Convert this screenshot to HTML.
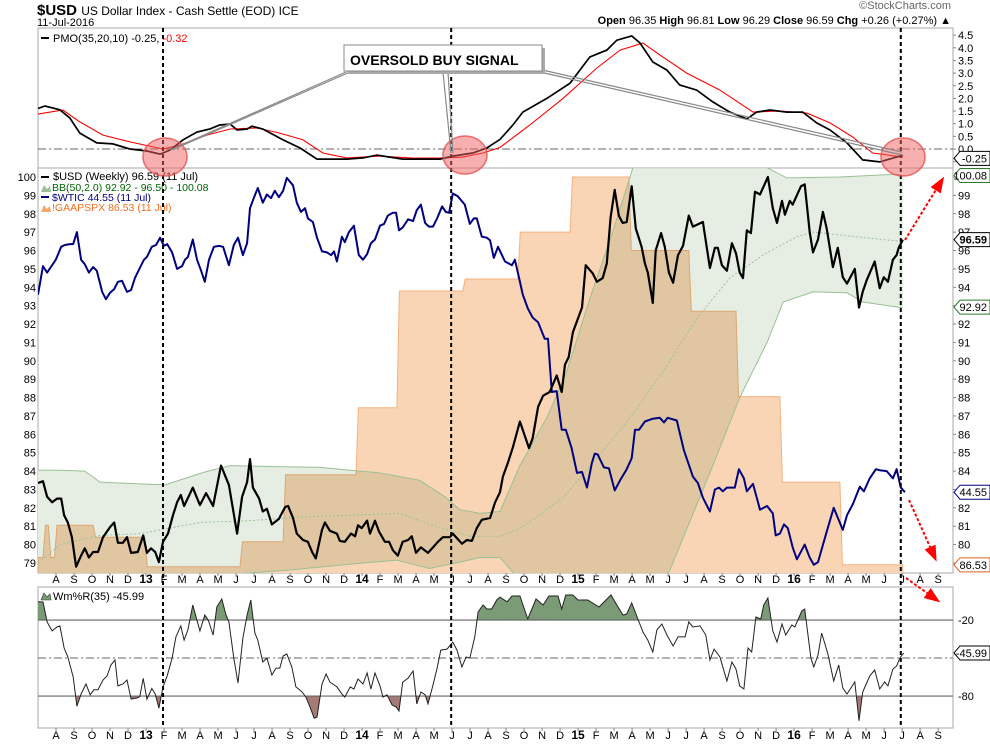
<!DOCTYPE html>
<html><head><meta charset="utf-8"><style>
body{margin:0;background:#fff;}
svg{display:block;font-family:"Liberation Sans",sans-serif;}
</style></head><body>
<svg id="c" width="990" height="744" viewBox="0 0 990 744" xmlns="http://www.w3.org/2000/svg">
<defs>
<clipPath id="clipTop"><rect x="38" y="28" width="915" height="140"/></clipPath>
<clipPath id="clipMid"><rect x="38" y="168" width="915" height="405"/></clipPath>
<clipPath id="clipBot"><rect x="38" y="587" width="915" height="141"/></clipPath>
<clipPath id="clipOB"><rect x="38" y="587" width="915" height="33"/></clipPath>
<clipPath id="clipOS"><rect x="38" y="696" width="915" height="32"/></clipPath>
</defs>
<g id="header">
<text x="37" y="15" font-size="15" font-weight="bold" fill="#000">$USD <tspan font-size="12" font-weight="normal">US Dollar Index - Cash Settle (EOD) ICE</tspan></text>
<text x="37" y="26" font-size="11" fill="#000">11-Jul-2016</text>
<text x="951" y="9" font-size="11" fill="#666" text-anchor="end">©StockCharts.com</text>
<text x="951" y="24" font-size="11" fill="#000" text-anchor="end"><tspan font-weight="bold">Open</tspan> 96.35 <tspan font-weight="bold">High</tspan> 96.81 <tspan font-weight="bold">Low</tspan> 96.29 <tspan font-weight="bold">Close</tspan> 96.59 <tspan font-weight="bold">Chg</tspan> +0.26 (+0.27%) ▲</text>
</g>
<g id="panels"></g>
<g id="marks"></g>
<g id="overlay"></g>
</svg>
<script>
const usdWeeks=[0,1.2,2.2,3.4,4.6,5.6,6.3,7.2,8.2,9.2,10.4,11.3,12.3,13.3,14.5,15.7,17.4,18.4,19.3,20.5,21.5,22.5,24.1,25.4,26.3,27.3,28.3,29.2,30.2,31.4,32.6,33.6,34.5,35.3,37.4,39.1,40.6,42.3,44.2,46.1,48.1,49.3,50.5,51.2,51.9,53.4,54.3,55.3,56.5,58.2,59.7,60.4,61.6,62.5,64.0,65.2,66.2,67.1,68.6,69.3,70.5,72.2,72.9,74.1,75.6,76.6,77.3,78.2,79.5,80.2,81.4,82.4,83.8,84.8,85.7,86.9,88.1,89.4,90.3,91.3,92.5,94.2,95.4,96.6,97.8,99.5,100.2,102.4,103.6,104.8,106.0,107.2,109.2,110.4,111.6,112.3,113.5,114.7,116.4,118.6,119.5,120.8,122.0,123.6,125.3,126.5,127.3,128.2,129.2,131.4,132.3,134.0,135.0,136.4,137.4,138.3,139.3,140.3,141.2,142.2,143.4,144.4,145.8,146.6,147.3,148.5,149.2,150.5,151.4,152.4,153.4,154.6,155.8,157.2,158.2,160.6,162.3,163.5,164.2,165.2,166.4,167.6,168.6,169.5,170.3,171.2,172.2,173.2,174.4,176.3,177.5,178.5,179.7,180.4,181.6,182.3,184.3,185.2,186.4,187.2,188.4,189.6,190.5,192.0,193.2,194.4,195.4,197.3,198.3,199.2,200.2,202.1,203.3,204.3,205.3,206.5,207.4,207.9,208.9];
const usdValues=[83.35,83.45,82.6,82.3,82.5,82.5,81.6,81.2,80.4,78.8,79.4,79.8,79.3,79.6,79.6,80.4,80.95,81.2,80.1,80.1,80.4,79.55,79.6,80.5,79.55,79.8,79.6,79.05,80.15,80.6,81.6,82.3,82.7,82.1,83.1,82.15,82.8,82.1,84.3,83.25,80.6,82.6,83.4,84.65,83.1,82.5,81.8,81.95,81.1,81.4,82.05,82.1,81.45,80.6,80.25,80.15,79.6,79.25,80.8,81.2,80.75,80.6,80.2,80.15,80.6,80.45,81.05,80.9,81.3,80.6,81.3,80.7,80.15,80.15,79.7,79.4,80.15,80.25,80.45,79.55,79.85,79.55,79.85,80.15,80.4,80.4,80.6,80.05,80.25,80.2,80.9,81.35,81.45,82.3,82.85,83.7,84.45,85.3,86.7,85.25,85.8,87.5,88.1,88.3,89.2,88.3,89.8,90.2,91.55,92.9,95.2,94.75,94.3,94.5,95.3,97.8,99.3,97.9,97.5,97.55,99.5,97.2,96.2,95.3,94.8,93.15,96.0,96.95,96.2,94.8,94.25,95.75,96.25,97.9,97.3,97.55,95.05,96.15,96.15,95.2,94.9,96.4,95.85,94.8,94.5,97.1,96.95,99.2,99.05,100.0,98.3,97.5,98.7,97.95,98.7,98.5,99.5,99.6,97.0,95.9,96.6,98.1,97.2,95.1,96.15,94.55,94.2,95.0,92.9,93.75,94.4,95.4,93.95,94.55,94.3,95.5,95.75,96.15,96.59];
const wticWeeks=[0,1.2,2.2,3.4,4.3,5.6,6.5,7.7,8.5,9.4,10.4,11.3,12.3,13.3,14.2,15.5,16.4,17.4,18.4,19.3,20.3,21.5,22.5,23.4,24.6,25.6,26.3,27.5,28.5,29.5,30.4,31.2,32.4,33.6,34.8,35.5,36.2,37.4,38.4,39.4,40.3,41.3,42.5,43.7,44.7,46.1,47.3,48.3,49.5,50.5,51.2,52.2,53.1,54.3,55.3,56.3,57.2,58.2,59.2,60.1,61.6,62.5,63.5,64.5,65.2,66.4,67.4,68.6,69.8,70.8,71.5,72.2,73.4,74.1,75.1,76.3,77.5,78.5,79.5,80.4,81.4,82.6,83.6,84.5,85.7,86.5,87.2,88.1,89.4,90.6,91.5,92.5,93.5,94.4,95.4,96.4,97.6,98.5,99.3,100.2,101.4,103.1,104.3,105.3,106.0,107.2,108.4,109.2,110.1,111.1,112.8,114.5,115.2,116.2,117.1,118.3,119.5,120.8,122.4,123.2,124.1,125.3,126.5,127.5,128.9,130.2,131.4,132.6,133.8,134.5,135.2,136.7,137.9,139.3,140.6,142.2,143.4,144.2,145.2,146.6,148.5,150.2,151.2,152.1,154.3,156.0,158.2,159.4,160.6,162.3,163.5,164.5,165.4,166.4,168.3,169.3,170.5,171.2,172.7,174.4,176.1,177.5,178.2,179.2,180.2,181.1,182.3,183.3,185.2,186.4,187.4,188.4,190.5,192.2,194.4,195.4,196.8,198.5,199.5,200.9,202.4,203.3,205.0,206.5,207.4,208.4,209.4];
const wticValues=[93.6,95.15,94.8,95.2,95.5,96.2,96.3,96.35,96.35,97.0,95.5,95.25,94.8,95.1,94.9,93.75,93.35,93.7,93.9,94.3,94.35,93.75,93.85,94.5,95.05,95.5,95.65,96.2,96.3,96.7,96.25,96.35,95.9,95.0,95.15,95.5,95.65,96.6,95.5,94.9,94.3,95.5,96.2,96.25,96.2,95.2,96.3,96.7,95.75,96.4,98.3,98.9,99.4,98.6,99.05,98.85,99.25,98.9,99.25,99.95,99.55,98.6,98.1,98.3,97.75,97.55,96.7,95.95,95.9,95.75,95.95,95.4,96.75,96.45,97.0,97.35,95.75,95.5,95.8,96.4,96.6,97.35,97.45,97.9,98.05,98.05,97.1,97.25,97.7,97.6,98.2,98.5,97.5,97.3,97.3,97.75,98.4,98.1,98.05,99.1,98.95,98.5,97.45,97.75,97.75,96.75,96.7,96.55,95.6,96.2,95.4,95.2,95.5,94.5,93.6,92.85,92.35,92.1,91.2,91.2,88.3,88.35,86.25,86.25,85.25,83.9,83.95,83.1,84.45,84.95,84.9,84.2,84.15,82.95,83.5,84.1,84.7,86.25,86.25,86.7,86.85,86.9,86.65,86.9,86.75,85.15,83.7,83.35,82.55,81.8,83.0,83.1,82.9,83.1,83.1,84.1,83.6,82.9,83.3,81.9,82.1,81.7,80.5,80.6,81.1,80.9,79.85,79.2,80.0,79.3,78.9,79.05,80.7,82.0,80.8,81.6,82.2,83.15,82.9,83.6,84.1,84.05,84.0,83.6,84.1,83.1,82.85];
const gaapWeeks=[0,1.2,2.5,4.0,13.3,25.8,48.8,59.2,76.8,86.7,102.6,115.9,128.5,142.7,157.2,168.6,179.2,193.7];
const gaapValues=[79.3,81.05,79.3,81.05,80.4,78.8,80.15,83.8,87.45,93.8,94.45,97.0,100,96.0,92.7,88.05,83.4,78.9];
const gaapEndWeek=208.9;
const bbUpperWeeks=[0,5.3,11.3,15.0,24.6,30.7,35.5,40.3,46.4,56.0,68.1,75.4,82.6,92.2,98.3,101.9,106.7,111.6,116.4,122.9,127.7,133.3,138.8,143.7,176.1,180.9,193.7,207.4,208.9];
const bbUpperValues=[84.05,84.05,84.0,83.4,83.3,83.25,83.6,83.95,84.3,84.25,84.2,84.05,83.9,83.5,82.6,81.9,81.7,81.8,84.3,86.9,89.4,93.4,97.0,100.5,100.5,99.95,100.0,100.15,100.08];
const bbLowerWeeks=[0,34.3,60.1,78.5,86.7,94.6,101.9,106.7,111.6,114.7,121.2,135.7,147.8,152.6,163.0,169.5,176.1,180.0,187.2,195.4,199.2,208.2,208.9];
const bbLowerValues=[77.5,78.2,78.6,79.0,79.15,78.7,79.05,79.3,79.3,78.5,76.5,75.8,77.3,78.6,84.3,88.0,91.0,93.2,93.75,93.7,93.2,92.9,92.92];
const bbMidWeeks=[0,5.3,15.0,24.6,39.1,51.2,63.3,75.4,87.4,94.6,104.3,111.6,117.1,126.8,135.0,143.0,150.9,159.1,167.1,175.1,183.3,187.2,195.4,208.2,208.9];
const bbMidValues=[79.0,80.0,80.5,80.6,81.2,81.3,81.5,81.6,81.7,81.1,80.45,80.45,80.95,82.55,84.7,86.9,89.4,92.3,94.5,95.75,96.75,97.0,96.8,96.5,96.5];
const pmoWeeks=[0,1.7,5.3,7.7,10.1,14.2,18.1,22.2,26.3,29.5,31.9,35.0,38.4,41.5,43.9,46.4,48.1,50.5,51.7,54.3,59.2,63.3,67.4,70.5,74.6,78.5,81.9,85.0,88.1,91.5,97.1,100.2,105.0,108.4,111.6,114.7,117.1,122.9,128.5,133.3,137.4,139.8,143.4,145.4,148.5,151.9,155.0,159.1,163.0,167.1,171.2,173.6,176.8,180.9,184.7,188.1,191.3,195.4,199.2,203.3,206.5,208.9];
const pmoValues=[1.6,1.7,1.55,1.22,0.63,0.24,0.2,0,-0.08,-0.2,-0.04,0.36,0.67,0.79,0.95,0.99,0.75,0.79,0.9,0.79,0.36,0.04,-0.4,-0.4,-0.4,-0.35,-0.24,-0.32,-0.4,-0.4,-0.4,-0.28,-0.16,0.04,0.38,0.95,1.46,2.0,2.6,3.64,3.91,4.3,4.47,4.19,3.44,3.12,2.53,2.33,1.86,1.46,1.19,1.46,1.54,1.46,1.46,1.03,0.75,0.24,-0.43,-0.51,-0.36,-0.25];
const sigWeeks=[0,6.0,10.1,15.7,22.2,30.2,34.3,40.8,46.4,52.9,58.4,64.0,68.8,74.6,82.6,90.6,97.1,102.6,107.5,111.6,118.8,126.8,135.0,140.6,146.1,150.2,156.7,164.7,172.7,179.2,185.7,191.3,196.8,201.6,208.9];
const sigValues=[1.38,1.54,1.07,0.55,0.28,0,0.16,0.55,0.79,0.83,0.63,0.36,-0.16,-0.35,-0.28,-0.36,-0.36,-0.32,-0.16,0.06,0.95,2.0,3.2,3.91,4.19,3.72,3.0,2.33,1.46,1.5,1.42,1.03,0.47,-0.16,-0.32];
const wrWeeks=[0,1.2,2.2,3.4,4.6,5.3,6.3,7.2,8.5,9.4,10.4,11.6,12.6,13.5,14.5,15.7,16.7,17.6,18.6,19.3,20.5,21.5,22.5,23.9,24.6,25.4,26.3,27.5,28.3,29.2,30.2,31.2,32.4,33.3,34.5,35.3,36.2,37.4,38.2,39.1,40.3,41.1,42.3,43.2,44.4,45.4,46.1,47.3,48.3,49.5,50.5,51.4,52.4,53.1,54.3,55.3,56.5,57.5,58.4,59.2,60.1,61.3,62.3,63.8,64.7,65.7,66.7,67.4,68.6,69.6,70.5,72.2,73.4,74.1,75.4,76.3,77.3,78.5,79.5,80.4,81.4,82.6,83.3,84.3,85.5,86.5,87.2,88.1,89.4,90.6,91.5,92.5,93.5,94.2,95.4,96.4,97.3,98.8,100.2,101.2,102.4,103.4,104.3,105.5,106.3,107.5,108.4,109.6,110.8,111.6,113.3,114.5,116.4,118.3,120.3,122.0,123.4,125.6,126.5,127.5,129.2,130.4,132.8,135.5,138.4,139.8,141.3,142.2,143.4,144.7,146.1,147.3,148.5,149.5,150.7,151.9,153.4,154.6,156.3,157.2,158.2,159.9,161.3,162.3,163.3,164.7,166.4,167.6,168.6,169.5,170.5,171.5,172.4,173.4,174.6,175.3,176.3,177.5,178.5,179.7,180.6,182.1,182.8,184.5,185.2,186.7,187.4,188.4,189.3,190.8,192.2,193.4,194.4,195.4,197.3,198.3,199.2,200.9,202.1,203.3,204.5,205.3,206.5,207.4,208.2,209.1];
const wrValues=[-5.5,-5.8,-21.5,-28.6,-25.5,-24.6,-42,-49,-65,-88,-78.4,-70.5,-79,-75,-75,-67.3,-64,-55.5,-51.5,-72,-70.5,-67.3,-82.4,-81.5,-80.5,-66,-82.4,-74,-78.4,-89.5,-72.8,-64,-50,-33.3,-24.6,-35.8,-27.8,-8.1,-17.6,-28.6,-16,-20,-31.8,-9.7,-3.4,-16,-21.5,-50,-69.7,-34.2,-16,-4.2,-30.3,-35.8,-53.1,-50,-63.4,-57.9,-57.9,-48.4,-46.8,-57,-72.8,-76.8,-80.8,-88.6,-97.4,-96.6,-70.5,-62.6,-69,-72.8,-78.4,-80.8,-72.8,-74.4,-66.5,-70.5,-61.8,-74.4,-61.8,-72,-80.8,-79,-87,-88.6,-91.8,-69,-65.8,-60.2,-86.2,-76.8,-79,-86.2,-71.3,-57.9,-43.7,-42.9,-37.4,-43.7,-57,-49.2,-50,-33.3,-13.6,-8.1,-11.3,-11.3,-4.2,-1.9,-5.6,-1,-1,-19.2,-3.4,-8.1,-1,-1,-11.3,-0.2,-0.2,-4.2,-4.2,-9.7,-0.2,-8.1,-16,-15.2,-6.5,-17.6,-29.4,-35.8,-45.2,-27.8,-23.1,-31.8,-40.5,-33.3,-33.3,-21.5,-25.5,-24.6,-31.8,-51.5,-42.9,-49.2,-68.1,-53.1,-58.7,-72,-74.4,-42.1,-45.2,-17.6,-19.2,-8.1,-2.6,-28.6,-37.3,-23.1,-31.8,-23.9,-25.5,-12.9,-11.3,-50,-57,-47.6,-30.3,-46.8,-68.1,-55.5,-73.7,-78.4,-68.9,-99.5,-76.8,-64.2,-59.4,-74.4,-68.9,-72,-58.7,-56.3,-50,-45.99];
const monthLabels=["A","S","O","N","D","13","F","M","A","M","J","J","A","S","O","N","D","14","F","M","A","M","J","J","A","S","O","N","D","15","F","M","A","M","J","J","A","S","O","N","D","16","F","M","A","M","J","J","A","S"];
const midTicks=[79,80,81,82,83,84,85,86,87,88,89,90,91,92,93,94,95,96,97,98,99,100];
const pmoTicks=[-0.5,0,0.5,1,1.5,2,2.5,3,3.5,4,4.5];
const wrTicks=[-20,-80];
const signalWeeks=[30.2,99.8,208.4];

const firstMonthWeek=4.35, weeksPerMonth=52.18/12;
const X=w=>38+w*4.14;
const yM=v=>177+(100-v)*18.38;
const yP=v=>149-v*25.3;
const yW=v=>594.7-v*1.267;
const NS="http://www.w3.org/2000/svg";
function el(parent,tag,attrs){const e=document.createElementNS(NS,tag);for(const k in attrs)e.setAttribute(k,attrs[k]);parent.appendChild(e);return e;}
function pts(ws,vs,fy){const n=Math.min(ws.length,vs.length);let a=[];for(let i=0;i<n;i++)a.push(X(ws[i]).toFixed(1)+","+fy(vs[i]).toFixed(1));return a;}
const P=document.getElementById('panels'),M=document.getElementById('marks'),O=document.getElementById('overlay');

[[28,140,'pmo-panel'],[168,405,'price-panel'],[587,141,'williams-panel']].forEach(p=>{
 const r=el(P,'rect',{x:38,y:p[0],width:915,height:p[1],fill:'#fff',stroke:'#aaa','stroke-width':1});
 
 
});

const gM=el(M,'g',{'clip-path':'url(#clipMid)'});


let gp=[X(0)+','+yM(gaapValues[0])];
for(let k=0;k<gaapWeeks.length;k++){
 const s=k===0?gaapWeeks[0]:gaapWeeks[k]+0.6;
 const e=k<gaapWeeks.length-1?gaapWeeks[k+1]:gaapEndWeek;
 gp.push(X(s).toFixed(1)+','+yM(gaapValues[k]).toFixed(1));
 gp.push(X(e).toFixed(1)+','+yM(gaapValues[k]).toFixed(1));
}
gp.push(X(gaapEndWeek)+',580');gp.push(X(0)+',580');
const ga=el(gM,'polygon',{points:gp.join(' '),fill:'#f9d5b5',stroke:'#f4b27f','stroke-width':1});


const up=pts(bbUpperWeeks,bbUpperValues,yM), lo=pts(bbLowerWeeks,bbLowerValues,yM);
const bf=el(gM,'polygon',{points:up.concat(lo.slice().reverse()).join(' '),fill:'#e6eee4',style:'mix-blend-mode:multiply'});


const bu=el(gM,'polyline',{points:up.join(' '),fill:'none',stroke:'#9bbf95','stroke-width':1});


const bl=el(gM,'polyline',{points:lo.join(' '),fill:'none',stroke:'#9bbf95','stroke-width':1});


const bm=el(gM,'polyline',{points:pts(bbMidWeeks,bbMidValues,yM).join(' '),fill:'none',stroke:'#9cc49a','stroke-width':1,'stroke-dasharray':'2,2'});


const wl=el(gM,'polyline',{points:pts(wticWeeks,wticValues,yM).join(' '),fill:'none',stroke:'#000080','stroke-width':2,'stroke-linejoin':'round'});


const ul=el(gM,'polyline',{points:pts(usdWeeks,usdValues,yM).join(' '),fill:'none',stroke:'#000','stroke-width':2.2,'stroke-linejoin':'round'});



const gT=el(M,'g',{'clip-path':'url(#clipTop)'});


const z=el(gT,'line',{x1:38,x2:953,y1:yP(0),y2:yP(0),stroke:'#666','stroke-dasharray':'8,3,2,3'});


const sl=el(gT,'polyline',{points:pts(sigWeeks,sigValues,yP).join(' '),fill:'none',stroke:'#f00','stroke-width':1.1});


const pl=el(gT,'polyline',{points:pts(pmoWeeks,pmoValues,yP).join(' '),fill:'none',stroke:'#000','stroke-width':1.7});



const gB=el(M,'g',{'clip-path':'url(#clipBot)'});


const wp=pts(wrWeeks,wrValues,yW);
const last=wrWeeks[Math.min(wrWeeks.length,wrValues.length)-1];
const g1=el(gB,'g',{'clip-path':'url(#clipOB)'});
const ob=el(g1,'polygon',{points:wp.concat([X(last)+','+yW(-20),X(0)+','+yW(-20)]).join(' '),fill:'#7b9b77'});


const g2=el(gB,'g',{'clip-path':'url(#clipOS)'});
const os=el(g2,'polygon',{points:wp.concat([X(last)+','+yW(-80),X(0)+','+yW(-80)]).join(' '),fill:'#a67a76'});


[-20,-80].forEach(v=>{const l=el(gB,'line',{x1:38,x2:953,y1:yW(v),y2:yW(v),stroke:'#666','stroke-width':1.2});
 
 });
const mid=el(gB,'line',{x1:38,x2:953,y1:yW(-50),y2:yW(-50),stroke:'#666','stroke-dasharray':'8,3,2,3'});


const wrl=el(gB,'polyline',{points:wp.join(' '),fill:'none',stroke:'#222','stroke-width':1});



function txt(p,x,y,s,attrs){const t=el(p,'text',Object.assign({x:x,y:y,'font-size':11,fill:'#000'},attrs||{}));t.textContent=s;return t;}
midTicks.forEach(v=>{
 const t1=txt(P,36,yM(v)+4,String(v),{'text-anchor':'end'});
 
 
 const t2=txt(P,958,yM(v)+4,String(v));
 
 
 el(P,'line',{x1:953,x2:956,y1:yM(v),y2:yM(v),stroke:'#888'});
});
pmoTicks.forEach(v=>{
 const t=txt(P,958,yP(v)+4,v.toFixed(1));
 
 
 el(P,'line',{x1:953,x2:956,y1:yP(v),y2:yP(v),stroke:'#888'});
});
wrTicks.forEach(v=>{
 const t=txt(P,958,yW(v)+4,String(v));
 
 
});
monthLabels.forEach((m,i)=>{
 const x=X(firstMonthWeek+i*weeksPerMonth);
 const bold=/\d/.test(m)?{'text-anchor':'middle','font-weight':'bold','font-size':12}:{'text-anchor':'middle'};
 const a=txt(P,x,583,m,bold);
 
 
 const b=txt(P,x,739,m,bold);
 
 
 el(P,'line',{x1:x,x2:x,y1:573,y2:576,stroke:'#888'});
 el(P,'line',{x1:x,x2:x,y1:728,y2:731,stroke:'#888'});
});

function tag(y,s,stroke,bold,fill){
 const g=el(O,'g',{});
 
 
 el(g,'polygon',{points:`954,${y} 960,${y-7} 990,${y-7} 990,${y+7} 960,${y+7}`,fill:'#fff',stroke:stroke,'stroke-width':1});
 txt(g,987,y+4,s,{'text-anchor':'end','font-weight':bold?'bold':'normal',fill:fill||'#000'});
}
tag(yP(-0.25)+3,'-0.25','#000',false);
tag(yM(100.08),'100.08','#2a7a2a',false);
tag(yM(96.59),'96.59','#000',true);
tag(yM(92.92),'92.92','#2a7a2a',false);
tag(yM(wticValues[wticValues.length-1]),'44.55','#000080',false);
tag(yM(gaapValues[gaapValues.length-1]),'86.53','#e06020',false);
tag(yW(wrValues[wrValues.length-1]),'-45.99','#000',false);

const lg=el(O,'g',{});


el(lg,'rect',{x:41,y:37,width:8,height:2,fill:'#000'});
const t1=el(lg,'text',{x:53,y:42,'font-size':11,fill:'#000'});


t1.innerHTML='PMO(35,20,10) -0.25, <tspan fill="#f00">-0.32</tspan>';
el(lg,'rect',{x:41,y:176,width:8,height:2,fill:'#000'});
txt(lg,53,180,'$USD (Weekly) 96.59 (11 Jul)');
el(lg,'polygon',{points:'41,192 44,185 47,189 50,186 51,192',fill:'#9bbf95'});
txt(lg,52,191,'BB(50,2.0) 92.92 - 96.50 - 100.08',{fill:'#006400','font-size':10.5});
el(lg,'rect',{x:41,y:196,width:8,height:2,fill:'#000080'});
txt(lg,52,201,'$WTIC 44.55 (11 Jul)',{fill:'#000080','font-size':10.5});
el(lg,'polygon',{points:'41,212 44,205 47,209 50,206 51,212',fill:'#f4a870'});
txt(lg,52,211,'!GAAPSPX 86.53 (11 Jul)',{fill:'#f07020','font-size':10.5});
el(lg,'polygon',{points:'41,600 44,593 47,597 50,594 51,600',fill:'#7b9b77',stroke:'#333','stroke-width':0.6});
txt(lg,53,600,'Wm%R(35) -45.99');

signalWeeks.forEach(w=>{
 const l=el(O,'line',{x1:X(w),x2:X(w),y1:28,y2:728,stroke:'#000','stroke-width':2,'stroke-dasharray':'4,3'});
 
 
});
[[165,157],[465,155],[903,157]].forEach(c=>{
 const e=el(O,'ellipse',{cx:c[0],cy:c[1],rx:22,ry:19,fill:'rgba(240,95,95,0.5)',stroke:'rgba(230,80,80,0.8)','stroke-width':1.5});
 
 
});
const cl=el(O,'g',{});


[['346,72','170,150'],['350,72','172,150'],['443,72','451,153'],['448,72','453,153'],['538,69','902,152'],['540,72','902,155']].forEach(p=>{
 const a=p[0].split(','),b=p[1].split(',');
 el(cl,'line',{x1:a[0],y1:a[1],x2:b[0],y2:b[1],stroke:'#888','stroke-width':1.2});
});
el(cl,'rect',{x:347,y:48,width:198,height:26,fill:'#aaa'});
el(cl,'rect',{x:344,y:45,width:198,height:26,fill:'#fff',stroke:'#888'});
txt(cl,350,65,'OVERSOLD BUY SIGNAL',{'font-size':14,'font-weight':'bold'});
[[905,240,942,180],[909,500,935,558],[906,578,937,600]].forEach(a=>{
 const g=el(O,'g',{});
 
 
 el(g,'line',{x1:a[0],y1:a[1],x2:a[2],y2:a[3],stroke:'#f00','stroke-width':2,'stroke-dasharray':'3,2'});
 const ang=Math.atan2(a[3]-a[1],a[2]-a[0]);
 const L=12,W=6;
 const bx=a[2]-L*Math.cos(ang),by=a[3]-L*Math.sin(ang);
 el(g,'polygon',{points:`${a[2]+4*Math.cos(ang)},${a[3]+4*Math.sin(ang)} ${bx-W*Math.sin(ang)},${by+W*Math.cos(ang)} ${bx+W*Math.sin(ang)},${by-W*Math.cos(ang)}`,fill:'#f00'});
});
</script>
</body></html>
